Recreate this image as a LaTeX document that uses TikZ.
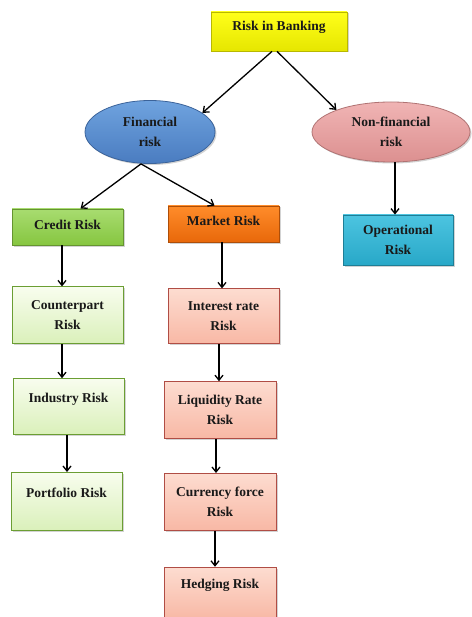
\documentclass[tikz,border=0pt]{standalone}
\usepackage{fontspec}
\setmainfont{Liberation Serif}
\usepackage{xcolor}
\usetikzlibrary{shapes.geometric, arrows.meta, positioning, shadows}

\definecolor{bankfill}{HTML}{FFFF1A}
\definecolor{bankdark}{HTML}{E6E600}
\definecolor{finfill}{HTML}{6FA3DF}
\definecolor{findark}{HTML}{4A7CC0}
\definecolor{nonfinfill}{HTML}{F0B4B4}
\definecolor{nonfindark}{HTML}{DC9090}
\definecolor{creditfill}{HTML}{A8DC70}
\definecolor{creditdark}{HTML}{86C640}
\definecolor{marketfill}{HTML}{FF8C2A}
\definecolor{marketdark}{HTML}{E8680A}
\definecolor{palegreen}{HTML}{F8FDEE}
\definecolor{palegreendark}{HTML}{DAF0BA}
\definecolor{salmon}{HTML}{FDDCD0}
\definecolor{salmondark}{HTML}{F8B8A5}
\definecolor{operfill}{HTML}{4CC4E0}
\definecolor{operdark}{HTML}{28A8C8}

\begin{document}
\begin{tikzpicture}[
  x=1pt, y=-1pt,
  node distance=37pt,
  box/.style={rectangle, thick, minimum width=111pt, minimum height=56pt, inner sep=2pt, align=center, text=black!90,
    font=\bfseries\fontsize{13.5}{20}\selectfont, drop shadow={opacity=0.35, shadow xshift=1.5pt, shadow yshift=-1.5pt}},
  single/.style={text depth=18pt},
  bankbox/.style={box, draw=bankdark!80!black, top color=bankfill, bottom color=bankdark, minimum width=136pt, minimum height=39pt, text depth=11pt},
  oval/.style={ellipse, thick, inner sep=0pt, align=center, text=black!90,
    font=\bfseries\fontsize{13.5}{20}\selectfont, drop shadow={opacity=0.35, shadow xshift=1.5pt, shadow yshift=-1.5pt}},
  finoval/.style={oval, draw=findark!80!black, top color=finfill, bottom color=findark, minimum width=130pt, minimum height=63pt},
  nonfinoval/.style={oval, draw=nonfindark!80!black, top color=nonfinfill, bottom color=nonfindark, minimum width=158pt, minimum height=60pt},
  credithead/.style={box, draw=creditdark!75!black, top color=creditfill, bottom color=creditdark, minimum height=36pt, text depth=4pt},
  markethead/.style={box, draw=marketdark!75!black, top color=marketfill, bottom color=marketdark, minimum height=36pt, text depth=6pt},
  creditsub/.style={box, draw=creditdark!80!black, top color=palegreen, bottom color=palegreendark},
  marketsub/.style={box, draw=salmondark!60!red!70!black, top color=salmon, bottom color=salmondark, minimum width=112pt, minimum height=57pt},
  operbox/.style={box, draw=operdark!75!black, top color=operfill, bottom color=operdark, minimum width=110pt, minimum height=50pt},
  arrow/.style={line width=1.3pt, -{Straight Barb[length=5pt, width=8pt]}}
]
\useasboundingbox (0,0) rectangle (471,617);

% Top level
\node (bank) [bankbox] at (279,31.5) {Risk in Banking};
\node (fin) [finoval] at (150,132) {Financial\\risk};
\node (nonfin) [nonfinoval] at (391,132) {Non-financial\\risk};

% Second level
\node (credit) [credithead] at (67.5,227) {Credit Risk};
\node (market) [markethead] at (223.5,224) {Market Risk};
\node (oper) [operbox] at (398,240) {Operational\\Risk};

% Credit column
\node (counter) [creditsub, below=41pt of credit, minimum height=57pt] {Counterpart\\Risk};
\node (industry) [creditsub, single, below=34pt of counter, xshift=1pt] {Industry Risk};
\node (portfolio) [creditsub, single, below=37pt of industry, xshift=-2pt, minimum height=58pt] {Portfolio Risk};

% Market column
\node (interest) [marketsub, below=46pt of market, minimum width=111pt, minimum height=55pt] {Interest rate\\Risk};
\node (liquidity) [marketsub, below=37pt of interest, xshift=-3.5pt] {Liquidity Rate\\Risk};
\node (currency) [marketsub, below=34pt of liquidity] {Currency force\\Risk};
\node (hedging) [marketsub, single, below=36pt of currency, minimum height=52pt] {Hedging Risk};

% Arrows
\draw [arrow] ([xshift=-7pt]bank.south) -- (fin.20);
\draw [arrow] ([xshift=-2pt]bank.south) -- (nonfin.158);
\draw [arrow] ([xshift=-9pt]fin.south) -- ([xshift=13pt]credit.north);
\draw [arrow] ([xshift=-9pt]fin.south) -- ([xshift=-9pt]market.north);
\draw [arrow] ([xshift=4pt]nonfin.south) -- ([xshift=-3pt]oper.north);
\draw [arrow] ([xshift=-5.5pt]credit.south) -- ([xshift=-5.5pt]counter.north);
\draw [arrow] ([xshift=-5.5pt]counter.south) -- ([xshift=-6.5pt]industry.north);
\draw [arrow] ([xshift=-1.5pt]industry.south) -- ([xshift=0.5pt]portfolio.north);
\draw [arrow] ([xshift=-1.5pt]market.south) -- ([xshift=-1.5pt]interest.north);
\draw [arrow] ([xshift=-4.5pt]interest.south) -- ([xshift=-1pt]liquidity.north);
\draw [arrow] ([xshift=-4pt]liquidity.south) -- ([xshift=-4pt]currency.north);
\draw [arrow] ([xshift=-5pt]currency.south) -- ([xshift=-5pt]hedging.north);
\end{tikzpicture}
\end{document}
